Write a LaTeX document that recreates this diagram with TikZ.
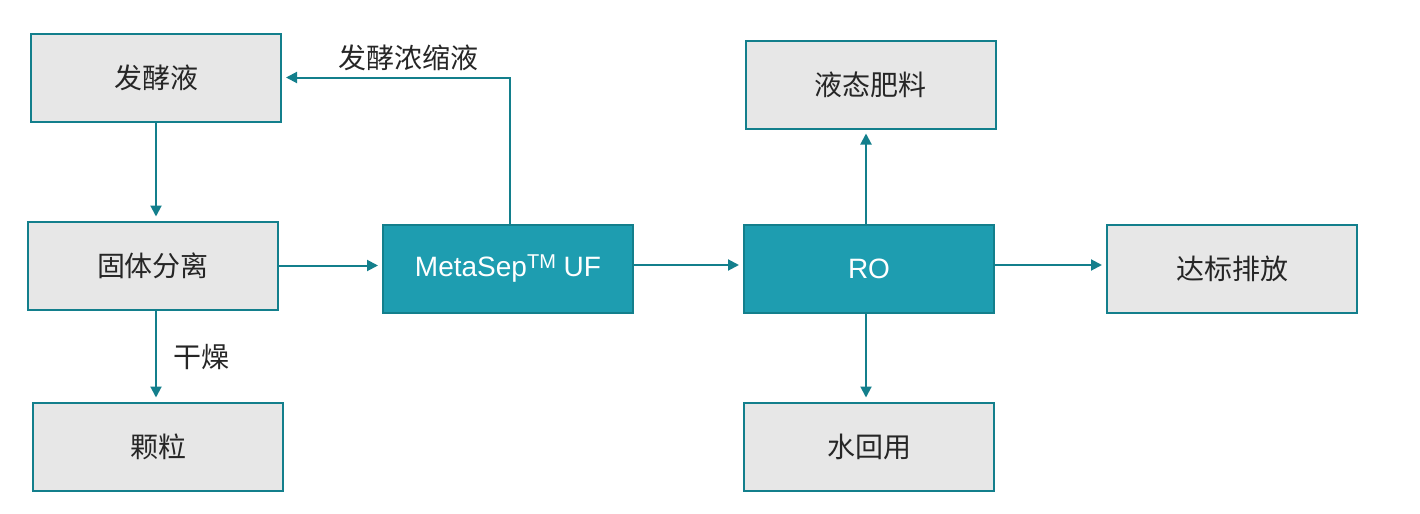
\documentclass[tikz,border=0pt]{standalone}
\usepackage{fontspec}
\setmainfont{Liberation Sans}
\newfontfamily\cjkfont{Noto Sans CJK SC}
\usetikzlibrary{arrows.meta}

\definecolor{tealline}{HTML}{137F8C}
\definecolor{tealfill}{HTML}{1E9DB0}
\definecolor{greyfill}{HTML}{E7E7E7}

\begin{document}
\begin{tikzpicture}[
  x=0.5pt, y=-0.5pt,
  font=\cjkfont\fontsize{14pt}{16pt}\selectfont,
  stage/.style={draw=tealline, fill=greyfill, line width=1pt,
                minimum width=125pt, minimum height=44pt, inner sep=0pt,
                text=black!85},
  unit/.style={stage, fill=tealfill, text=white,
               font=\fontsize{14pt}{16pt}\selectfont},
  flow/.style={-{Triangle[length=5.5pt, width=5.5pt]}, line width=1pt,
               tealline, shorten >=2pt},
  tag/.style={text=black!85},
]
  \useasboundingbox (0,0) rectangle (1420,514);

  % side streams
  \node[stage] (ferm)  at (156,77.5)   {发酵液};
  \node[stage] (solid) at (153,265.5)  {固体分离};
  \node[stage] (gran)  at (158,446.5)  {颗粒};

  % membrane units
  \node[unit]  (uf)    at (508,268.5)
    {MetaSep\raisebox{0.55ex}{\fontsize{10pt}{10pt}\selectfont TM} UF};
  \node[unit]  (ro)    at (869,268.5)  {RO};

  % outlets
  \node[stage] (fert)  at (870.5,84.5) {液态肥料};
  \node[stage] (reuse) at (869,446.5)  {水回用};
  \node[stage] (disch) at (1232,268.5) {达标排放};

  \draw[flow] (ferm.south) -- (ferm.south |- solid.north);
  \draw[flow] ([xshift=1.5pt]solid.south) -- ([xshift=1.5pt]solid.south |- gran.north);
  \draw[flow] (solid.east) -- (solid.east -| uf.west);
  \draw[flow] ([xshift=1pt]uf.north) |- (ferm.east);
  \draw[flow] ([yshift=1.75pt]uf.east) -- ([yshift=1.75pt]uf.east -| ro.west);
  \draw[flow] ([xshift=-1.5pt]ro.north) -- ([xshift=-1.5pt]ro.north |- fert.south);
  \draw[flow] ([xshift=-1.5pt]ro.south) -- ([xshift=-1.5pt]ro.south |- reuse.north);
  \draw[flow] ([yshift=1.75pt]ro.east) -- ([yshift=1.75pt]ro.east -| disch.west);

  \node[tag] (conc) at (408,58)  {发酵浓缩液};
  \node[tag] (dry)  at (201,357) {干燥};
\end{tikzpicture}
\end{document}
